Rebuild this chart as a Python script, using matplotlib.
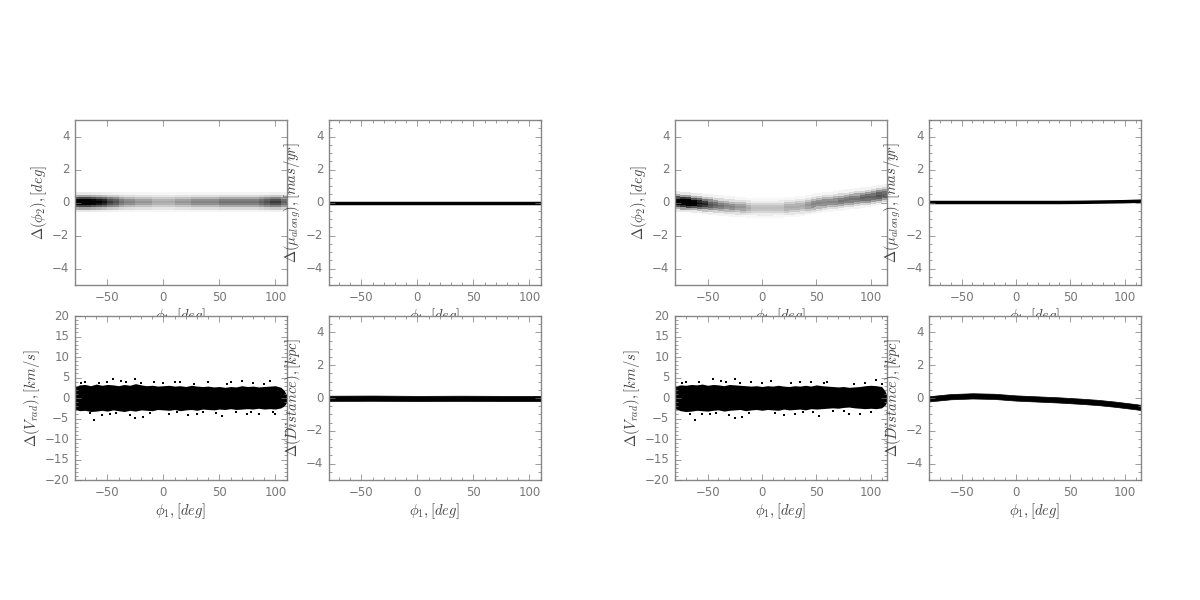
import numpy as np
import matplotlib
matplotlib.use('Agg')
import matplotlib.pyplot as plt

# ---- datos ----
# densidad de Delta(phi2): bordes en phi1, centro de la banda en los bordes, intensidad por celda
dens_edges_a = np.arange(-80, 111, 5)
dens_center_a = [0.02] * 39
dens_level_a = [0.85, 0.9, 0.9, 0.85, 0.8, 0.75, 0.65, 0.6, 0.5, 0.45, 0.45, 0.4, 0.4,
                0.4, 0.35, 0.35, 0.35, 0.35, 0.4, 0.4, 0.4, 0.45, 0.45, 0.45, 0.45, 0.45,
                0.5, 0.5, 0.5, 0.5, 0.5, 0.5, 0.5, 0.55, 0.6, 0.65, 0.65, 0.55]

dens_edges_b = np.arange(-80, 116, 5)
dens_center_b = [0.1, 0.05, 0.02, 0.0, -0.03, -0.06, -0.1, -0.13, -0.16, -0.2, -0.23, -0.26,
                 -0.28, -0.3, -0.32, -0.33, -0.34, -0.34, -0.33, -0.32, -0.3, -0.28, -0.25,
                 -0.22, -0.18, -0.12, -0.05, 0.0, 0.03, 0.06, 0.1, 0.15, 0.19, 0.23, 0.27,
                 0.31, 0.36, 0.42, 0.48, 0.55]
dens_level_b = [0.85, 0.95, 0.9, 0.85, 0.75, 0.7, 0.6, 0.55, 0.5, 0.45, 0.45, 0.4, 0.4,
                0.35, 0.3, 0.3, 0.3, 0.3, 0.3, 0.3, 0.35, 0.35, 0.35, 0.35, 0.4, 0.45,
                0.45, 0.45, 0.45, 0.45, 0.5, 0.5, 0.5, 0.5, 0.55, 0.55, 0.55, 0.6, 0.55]

# perfil vertical de la banda (desplazamientos y pesos)
band_offsets = [-0.6, -0.45, -0.32, -0.19, -0.06, 0.06, 0.19, 0.32, 0.45, 0.6]
band_weights = [0.15, 0.4, 0.7, 0.92, 1.0, 0.92, 0.7, 0.4, 0.15]

# mu_along
mu_phi1_a = [-79, 110]
mu_val_a = [0.0, 0.0]
mu_phi1_b = [-80, -40, 0, 40, 60, 80, 100, 115]
mu_val_b = [0.0, 0.0, 0.0, 0.0, 0.01, 0.03, 0.05, 0.08]

# Vrad: envolvente de la nube y puntos sueltos
vr_phi1_a = [-79, -75, -70, -65, -60, -55, -50, -45, -40, -35, -30, -25, -20, -15, -10, -5,
             0, 5, 10, 15, 20, 25, 30, 35, 40, 45, 50, 55, 60, 65, 70, 75, 80, 85, 90, 95,
             100, 105, 108, 110]
vr_up_a = [2.8, 3.2, 3.3, 3.0, 3.4, 3.1, 3.3, 3.2, 3.0, 3.3, 3.1, 3.5, 3.2, 3.0, 3.1, 2.9,
           3.0, 3.1, 2.9, 3.0, 2.8, 3.1, 2.9, 2.8, 2.9, 2.7, 2.8, 2.6, 2.8, 2.7, 3.0, 2.8,
           2.9, 2.7, 2.8, 2.9, 3.0, 2.6, 1.8, 0.8]
vr_lo_a = [-2.8, -3.1, -3.0, -3.3, -3.2, -3.0, -3.2, -2.9, -3.1, -3.3, -3.0, -3.2, -2.9,
           -3.0, -3.1, -2.8, -2.9, -3.0, -2.8, -3.1, -2.9, -2.8, -3.0, -2.7, -2.8, -2.9,
           -2.7, -2.8, -2.6, -2.8, -2.7, -2.6, -2.7, -2.5, -2.7, -2.6, -2.7, -2.4, -1.9, -1.1]
vr_out_x_a = [-62, -45, -25, -38, -70, -25, -18, 30, 52, 70, 95, 10, -55, -8, 22, 40, 85,
              -30, 5, 60, -50, 15, 75, 100, -74, -66, -58, -42, -33, -12, 0, 27, 47, 65,
              80, 90, -48, -20, 12, 35, 57, 78, 98]
vr_out_y_a = [-5.3, 4.6, 4.7, 4.2, 4.0, -4.8, -4.6, -4.0, -4.3, 4.1, 4.1, 4.0, -4.1, 3.9,
              -4.2, 3.8, -3.9, -4.2, -3.9, 3.9, 3.9, 4.0, -3.8, -3.8, 3.6, -3.7, 3.7, -3.6,
              3.8, -3.7, 3.6, 3.5, -3.6, -3.4, 3.6, 3.5, -3.8, 3.7, -3.5, -3.5, 3.4, -3.4,
              -3.3]

vr_phi1_b = [-80, -75, -70, -65, -60, -55, -50, -45, -40, -35, -30, -25, -20, -15, -10, -5,
             0, 5, 10, 15, 20, 25, 30, 35, 40, 45, 50, 55, 60, 65, 70, 75, 80, 85, 90, 95,
             100, 105, 110, 113, 115]
vr_up_b = [2.9, 3.2, 3.1, 3.3, 3.2, 3.4, 3.1, 3.3, 3.2, 3.0, 3.3, 3.2, 3.1, 3.0, 2.9, 3.0,
           2.8, 3.0, 2.9, 3.1, 2.9, 2.8, 3.0, 2.9, 3.1, 2.9, 3.2, 3.0, 2.9, 2.8, 2.7, 2.8,
           2.6, 2.7, 2.8, 3.0, 3.1, 3.0, 2.8, 1.8, 0.6]
vr_lo_b = [-2.6, -3.1, -3.3, -3.2, -3.0, -3.1, -3.2, -3.0, -2.9, -3.2, -3.0, -2.9, -2.8,
           -3.1, -2.9, -2.8, -3.0, -2.8, -2.9, -3.0, -2.7, -2.9, -2.8, -2.7, -2.9, -2.6,
           -2.7, -2.6, -2.5, -2.4, -2.5, -2.3, -2.2, -2.4, -2.5, -2.6, -2.5, -2.6, -2.4,
           -1.8, -0.9]
vr_out_x_b = [-62, -45, -25, -38, -70, -25, -18, 30, 52, 8, 105, -55, 20, 45, 80, -30,
              60, -10, 90, 35, -74, -66, -58, -42, -33, -12, 0, 27, 47, 65, 85, 95, -48,
              -20, 12, 38, 57, 75, 100, 110]
vr_out_y_b = [-5.3, 4.6, 4.7, 4.2, 4.0, -4.8, -4.6, -4.0, -4.3, 4.2, 4.3, -4.0, -4.1, 3.9,
              -3.8, -4.2, 3.8, 3.9, -3.9, 4.0, 3.7, -3.8, 3.8, -3.6, 3.9, -3.6, 3.6, 3.6,
              -3.5, -3.2, 3.5, 3.7, -3.8, 3.7, -3.6, -3.5, 3.6, -3.1, -3.3, 3.5]

# Distancia: centro y semiancho de la banda
dist_phi1_a = [-79, -40, 0, 40, 80, 110]
dist_mid_a = [-0.02, -0.01, -0.03, -0.02, -0.03, -0.03]
dist_phi1_b = [-80, -60, -40, -20, 0, 20, 40, 60, 75, 90, 100, 110, 115]
dist_mid_b = [-0.05, 0.08, 0.13, 0.1, 0.0, -0.06, -0.12, -0.2, -0.27, -0.37, -0.45, -0.53, -0.58]
dist_half = 0.16

xlims = [(-79, 110.4), (-80, 115)]

plt.style.use('classic')
plt.rcParams['figure.facecolor'] = 'white'
plt.rcParams['savefig.facecolor'] = 'white'
plt.rcParams['mathtext.fontset'] = 'cm'
plt.rcParams['font.size'] = 8.5
plt.rcParams['axes.labelsize'] = 10.5
plt.rcParams['axes.edgecolor'] = '#888888'
plt.rcParams['xtick.color'] = '#777777'
plt.rcParams['ytick.color'] = '#777777'
plt.rcParams['axes.labelcolor'] = '#444444'

fig = plt.figure(figsize=(12, 6), dpi=100)

col_x = [[75, 329], [675, 929]]
row_y = [[120, 285], [316, 480]]


def make_ax(px, py):
    return fig.add_axes([px / 1200, 1 - py[1] / 600, 212 / 1200, (py[1] - py[0]) / 600])


groups = [
    (dens_edges_a, dens_center_a, dens_level_a, mu_phi1_a, mu_val_a,
     vr_phi1_a, vr_up_a, vr_lo_a, vr_out_x_a, vr_out_y_a, dist_phi1_a, dist_mid_a),
    (dens_edges_b, dens_center_b, dens_level_b, mu_phi1_b, mu_val_b,
     vr_phi1_b, vr_up_b, vr_lo_b, vr_out_x_b, vr_out_y_b, dist_phi1_b, dist_mid_b),
]

xlab = r'$\phi_1,[deg]$'
for g, (edges, cen, lev, mx, my, vx, vu, vl, ox, oy, dx, dm) in enumerate(groups):
    xl = xlims[g]
    # Delta phi2 como densidad
    ax = make_ax(col_x[g][0], row_y[0])
    X = np.tile(np.asarray(edges, float), (len(band_offsets), 1))
    Y = np.asarray(cen)[None, :] + np.asarray(band_offsets)[:, None]
    C = np.outer(band_weights, lev)
    ax.pcolormesh(X, Y, C, cmap='Greys', vmin=0, vmax=0.8, shading='flat', edgecolors='none')
    ax.set_xlim(xl)
    ax.set_ylim(-5, 5)
    ax.set_xticks([-50, 0, 50, 100])
    ax.set_ylabel(r'$\Delta(\phi_2),[deg]$', labelpad=2)
    ax.set_xlabel(xlab, labelpad=2)

    # mu along
    ax = make_ax(col_x[g][1], row_y[0])
    ax.plot(mx, my, color='black', lw=2.5)
    ax.set_xlim(xl)
    ax.set_ylim(-5, 5)
    ax.set_xticks([-50, 0, 50, 100])
    ax.minorticks_on()
    ax.set_ylabel(r'$\Delta(\mu_{along}),[mas/yr]$', labelpad=2)
    ax.set_xlabel(xlab, labelpad=2)

    # Vrad
    ax = make_ax(col_x[g][0], row_y[1])
    ax.fill_between(vx, vl, vu, color='black', lw=0)
    ax.scatter(ox, oy, s=3, color='black', marker='s', lw=0)
    ax.set_xlim(xl)
    ax.set_ylim(-20, 20)
    ax.set_xticks([-50, 0, 50, 100])
    ax.minorticks_on()
    ax.set_ylabel(r'$\Delta(V_{rad}),[km/s]$', labelpad=2)
    ax.set_xlabel(xlab, labelpad=2)

    # distancia
    ax = make_ax(col_x[g][1], row_y[1])
    dm = np.asarray(dm)
    ax.fill_between(dx, dm - dist_half, dm + dist_half, color='black', lw=0.5)
    ax.set_xlim(xl)
    ax.set_ylim(-5, 5)
    ax.set_xticks([-50, 0, 50, 100])
    ax.minorticks_on()
    ax.set_ylabel(r'$\Delta(Distance),[kpc]$', labelpad=2)
    ax.set_xlabel(xlab, labelpad=2)

plt.savefig('out.png', dpi=100)
plt.close()
